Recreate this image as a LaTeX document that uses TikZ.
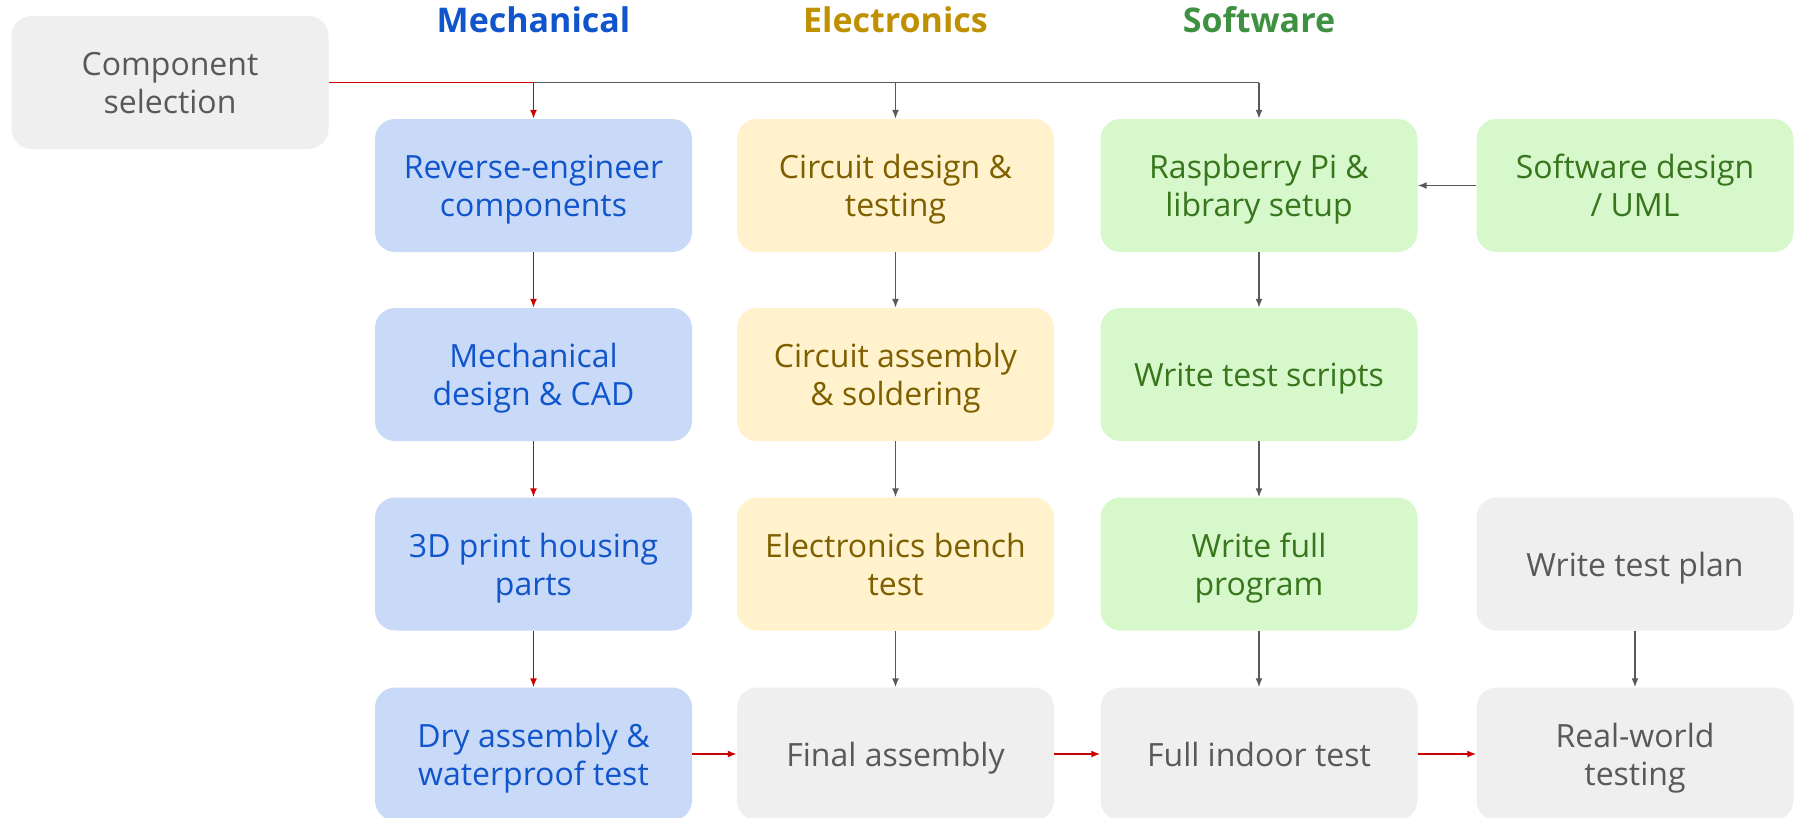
\documentclass[tikz,border=0pt]{standalone}
\usepackage{fontspec}
\setmainfont{Open Sans}
\usetikzlibrary{arrows.meta}
\definecolor{bfill}{HTML}{C9DAF8}
\definecolor{btext}{HTML}{1155CC}
\definecolor{yfill}{HTML}{FFF2CC}
\definecolor{ytext}{HTML}{7F6000}
\definecolor{gfill}{HTML}{D6F8CB}
\definecolor{gtext}{HTML}{38761D}
\definecolor{nfill}{HTML}{EFEFEF}
\definecolor{ntext}{HTML}{595959}
\definecolor{ared}{HTML}{CC0000}
\definecolor{agray}{HTML}{595959}
\definecolor{hmech}{HTML}{1155CC}
\definecolor{helec}{HTML}{BF9000}
\definecolor{hsoft}{HTML}{3D9140}
\tikzset{
  box/.style={rounded corners=20pt, minimum width=317pt, minimum height=133pt, align=center, inner sep=0pt,
    font=\fontsize{32}{38}\selectfont, text depth=-14.5pt},
  mech/.style={box, fill=bfill, text=btext},
  elec/.style={box, fill=yfill, text=ytext},
  soft/.style={box, fill=gfill, text=gtext},
  neut/.style={box, fill=nfill, text=ntext},
  head/.style={font=\fontsize{34}{40}\selectfont\bfseries},
  redarr/.style={draw=ared, line width=1.6pt, -{Latex[length=9pt,width=7pt]}},
  grayarr/.style={draw=agray, line width=1.6pt, -{Latex[length=9pt,width=7pt]}},
}
\begin{document}
\begin{tikzpicture}[x=1pt,y=-1pt]
\useasboundingbox (0,0) rectangle (1797,817);
\node[head, text=hmech] (hm) at (533.5,20) {Mechanical};
\node[head, text=helec] (he) at (895.5,20) {Electronics};
\node[head, text=hsoft] (hs) at (1259,20) {Software};

\node[neut] (cs) at (170,82.5) {Component\\selection};

\node[mech] (m1) at (533.5,185.5) {Reverse-engineer\\components};
\node[mech] (m2) at (533.5,374.5) {Mechanical\\design \& CAD};
\node[mech] (m3) at (533.5,564) {3D print housing\\parts};
\node[mech] (m4) at (533.5,754) {Dry assembly \&\\waterproof test};

\node[elec] (e1) at (895.5,185.5) {Circuit design \&\\testing};
\node[elec] (e2) at (895.5,374.5) {Circuit assembly\\\& soldering};
\node[elec] (e3) at (895.5,564) {Electronics bench\\test};
\node[neut] (e4) at (895.5,754) {Final assembly};

\node[soft] (s1) at (1259,185.5) {Raspberry Pi \&\\library setup};
\node[soft] (s2) at (1259,374.5) {Write test scripts};
\node[soft] (s3) at (1259,564) {Write full\\program};
\node[neut] (s4) at (1259,754) {Full indoor test};

\node[soft] (u1) at (1635,185.5) {Software design\\/ UML};
\node[neut] (u3) at (1635,564) {Write test plan};
\node[neut] (u4) at (1635,754) {Real-world\\testing};

\coordinate (jm) at (m1.north |- cs.east);
\coordinate (js) at (s1.north |- cs.east);
\draw[draw=agray, line width=1.6pt] (jm) -- (js);
\draw[grayarr] (js) -- (s1.north);
\draw[grayarr] (e1.north |- cs.east) -- (e1.north);
\draw[draw=ared, line width=1.6pt] (cs.east) -- (jm);
\draw[redarr] (jm) -- (m1.north);

\draw[redarr] (m1) -- (m2);
\draw[redarr] (m2) -- (m3);
\draw[redarr] (m3) -- (m4);
\draw[grayarr] (e1) -- (e2);
\draw[grayarr] (e2) -- (e3);
\draw[grayarr] (e3) -- (e4);
\draw[grayarr] (s1) -- (s2);
\draw[grayarr] (s2) -- (s3);
\draw[grayarr] (s3) -- (s4);
\draw[grayarr] (u3) -- (u4);
\draw[grayarr] (u1) -- (s1);
\draw[redarr] (m4) -- (e4);
\draw[redarr] (e4) -- (s4);
\draw[redarr] (s4) -- (u4);
\end{tikzpicture}
\end{document}
